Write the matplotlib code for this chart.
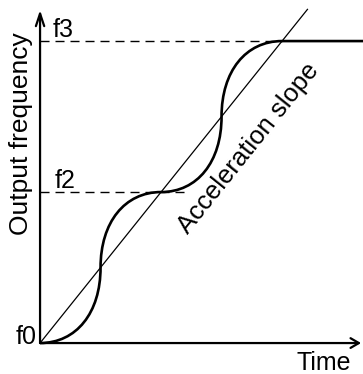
import matplotlib
matplotlib.use("Agg")
import matplotlib.pyplot as plt
from matplotlib.path import Path
from matplotlib.patches import PathPatch

plt.rcParams["font.family"] = ["Liberation Sans", "DejaVu Sans"]

# frequency levels and the times at which the S-curve reaches them
level_names = ["f0", "f2", "f3"]
level_freq = [0.0, 1.0, 2.0]
level_time = [0.0, 1.0, 2.0]
slope_end = 2.21        # end of the straight acceleration slope (t = f)
f2_dash_end = 1.24      # dashed guide for f2 runs a little past the curve
x_label = "Time"
y_label = "Output frequency"
slope_label = "Acceleration slope"

XMIN, XMAX = -0.331, 2.669
YMIN, YMAX = -0.205, 2.272
K = 0.6  # bezier handle ratio for the S bends

fig = plt.figure(figsize=(3.63, 3.74), dpi=100)
ax = fig.add_axes([0, 0, 1, 1])
ax.set_xlim(XMIN, XMAX)
ax.set_ylim(YMIN, YMAX)
ax.axis("off")

# axes with open arrow heads
ax.annotate("", xy=(0, 2.205), xytext=(0, 0),
            arrowprops=dict(arrowstyle="->,head_length=0.9,head_width=0.3", lw=1.6, color="black",
                            shrinkA=0, shrinkB=0))
ax.annotate("", xy=(2.653, 0), xytext=(0, 0),
            arrowprops=dict(arrowstyle="->,head_length=0.6,head_width=0.35", lw=1.6, color="black",
                            shrinkA=0, shrinkB=0))

# dashed level guides
ax.plot([0, level_time[2]], [level_freq[2]] * 2, color="black", lw=1, dashes=(6.5, 4.3))
ax.plot([0, f2_dash_end], [level_freq[1]] * 2, color="black", lw=1, dashes=(6.5, 4.3))

# straight acceleration slope
ax.plot([0, slope_end], [0, slope_end], color="black", lw=0.9)

# S-curve built from bezier quarters
verts = [(level_time[0], level_freq[0])]
codes = [Path.MOVETO]
for i in range(len(level_time) - 1):
    t0, f0 = level_time[i], level_freq[i]
    t1, f1 = level_time[i + 1], level_freq[i + 1]
    tm, fm = (t0 + t1) / 2, (f0 + f1) / 2
    dt, df = t1 - t0, f1 - f0
    verts += [(t0 + K * dt / 2, f0), (tm, fm - K * df / 2), (tm, fm),
              (tm, fm + K * df / 2), (t1 - K * dt / 2, f1), (t1, f1)]
    codes += [Path.CURVE4] * 6
verts.append((XMAX, level_freq[-1]))
codes.append(Path.LINETO)
ax.add_patch(PathPatch(Path(verts, codes), fc="none", ec="black", lw=1.9, capstyle="butt"))

# labels
fs = 18
ax.text(0.107, 2.026, level_names[2], fontsize=fs, ha="left", va="baseline")
ax.text(0.124, 1.026, level_names[1], fontsize=fs, ha="left", va="baseline")
ax.text(-0.03, -0.007, level_names[0], fontsize=fs, ha="right", va="baseline")
ax.text(2.57, -0.179, x_label, fontsize=fs, ha="right", va="baseline")
ax.text(-0.155, 1.387, y_label, fontsize=19, rotation=90, ha="center", va="center")
ax.text(1.725, 1.29, slope_label, fontsize=18.5, rotation=51.3, rotation_mode="anchor",
        ha="center", va="center")

fig.savefig("out.png", dpi=100, facecolor="white")
